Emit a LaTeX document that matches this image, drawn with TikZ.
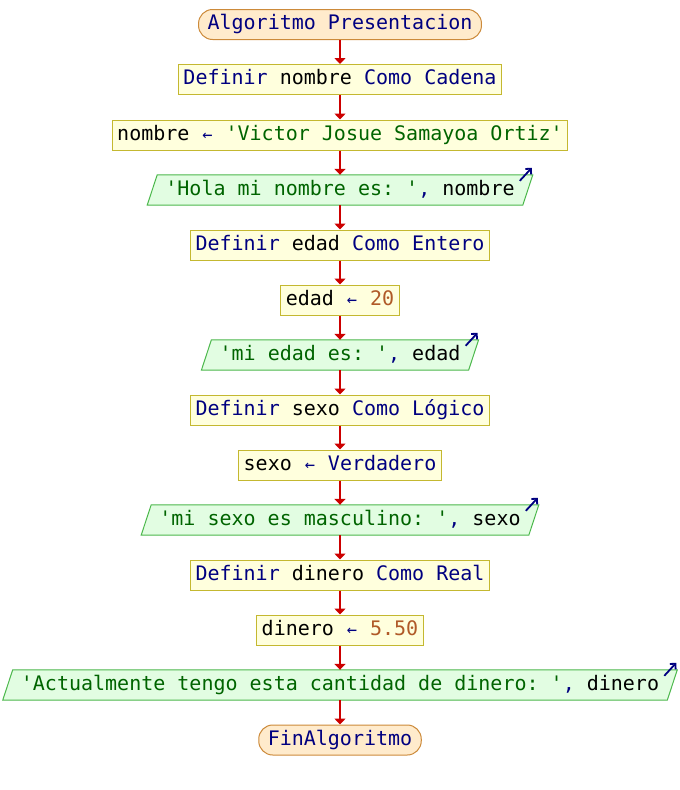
\documentclass[tikz,border=0pt]{standalone}
\usepackage{fontspec}
\setmonofont{DejaVu Sans Mono}
\usetikzlibrary{arrows.meta,calc,backgrounds}

\definecolor{kwcol}{HTML}{000080}
\definecolor{strcol}{HTML}{006400}
\definecolor{numcol}{HTML}{B05A28}
\definecolor{procfill}{HTML}{FFFFDD}
\definecolor{procline}{HTML}{C4B830}
\definecolor{termfill}{HTML}{FFEBCC}
\definecolor{termline}{HTML}{CC8A3A}
\definecolor{outfill}{HTML}{E2FDE2}
\definecolor{outline}{HTML}{4CB84C}
\definecolor{flowcol}{HTML}{CC0000}

\newcommand{\kwd}[1]{\textcolor{kwcol}{#1}}
\newcommand{\strg}[1]{\textcolor{strcol}{#1}}
\newcommand{\numb}[1]{\textcolor{numcol}{#1}}
% assignment arrow: a small glyph in a full character cell
\newcommand{\asg}{\makebox[0.602em]{\textcolor{kwcol}{\fontsize{17}{17}\selectfont ←}}}

\tikzset{
  codefont/.style={font=\ttfamily\fontsize{20}{24}\selectfont, text height=14pt, text depth=4pt},
  procbox/.style={codefont, draw=procline, fill=procfill, line width=1pt,
    inner xsep=5pt, inner ysep=0pt, minimum height=30pt},
  termbox/.style={codefont, draw=termline, fill=termfill, line width=1pt,
    rounded corners=14pt, inner xsep=9pt, inner ysep=0pt, minimum height=30pt},
  outtext/.style={codefont, inner xsep=13pt, inner ysep=0pt, minimum height=30pt},
  outshape/.style={draw=outline, fill=outfill, line width=1pt},
  outmark/.style={draw=kwcol, line width=1.8pt, -{Straight Barb[length=4pt,width=8pt]}},
  flow/.style={draw=flowcol, line width=2pt, -{Triangle[length=6pt,width=11pt]}},
}

% parallelogram behind an output node, with its small output mark
\newcommand{\outframe}[1]{%
  \begin{scope}[on background layer]
    \draw[outshape] ($(#1.south west)+(-5,0)$) -- ($(#1.north west)+(5,0)$)
      -- ($(#1.north east)+(5,0)$) -- ($(#1.south east)+(-5,0)$) -- cycle;
  \end{scope}
  \draw[outmark] ($(#1.north east)+(-8,6)$) -- ($(#1.north east)+(4,-7)$);
}

\begin{document}
\begin{tikzpicture}[x=1pt,y=-1pt]
\useasboundingbox (0,0) rectangle (680,790);

\node[termbox] (start) at (340,24.5) {\kwd{Algoritmo Presentacion}};
\node[procbox] (d1) at (340,79.5) {\kwd{Definir} nombre \kwd{Como Cadena}};
\node[procbox] (a1) at (340,135) {nombre \asg{} \strg{'Victor Josue Samayoa Ortiz'}};
\node[outtext] (o1) at (340,190) {\strg{'Hola mi nombre es: '}\kwd{,} nombre};
\node[procbox] (d2) at (340,245) {\kwd{Definir} edad \kwd{Como Entero}};
\node[procbox] (a2) at (340,300) {edad \asg{} \numb{20}};
\node[outtext] (o2) at (340,355) {\strg{'mi edad es: '}\kwd{,} edad};
\node[procbox] (d3) at (340,410) {\kwd{Definir} sexo \kwd{Como Lógico}};
\node[procbox] (a3) at (340,465) {sexo \asg{} \kwd{Verdadero}};
\node[outtext] (o3) at (340,520) {\strg{'mi sexo es masculino: '}\kwd{,} sexo};
\node[procbox] (d4) at (340,575) {\kwd{Definir} dinero \kwd{Como Real}};
\node[procbox] (a4) at (340,630) {dinero \asg{} \numb{5.50}};
\node[outtext] (o4) at (340,685) {\strg{'Actualmente tengo esta cantidad de dinero: '}\kwd{,} dinero};
\node[termbox] (stop) at (340,740) {\kwd{FinAlgoritmo}};

\outframe{o1}
\outframe{o2}
\outframe{o3}
\outframe{o4}

\draw[flow] (start) -- (d1);
\draw[flow] (d1) -- (a1);
\draw[flow] (a1) -- (o1);
\draw[flow] (o1) -- (d2);
\draw[flow] (d2) -- (a2);
\draw[flow] (a2) -- (o2);
\draw[flow] (o2) -- (d3);
\draw[flow] (d3) -- (a3);
\draw[flow] (a3) -- (o3);
\draw[flow] (o3) -- (d4);
\draw[flow] (d4) -- (a4);
\draw[flow] (a4) -- (o4);
\draw[flow] (o4) -- (stop);
\end{tikzpicture}
\end{document}
